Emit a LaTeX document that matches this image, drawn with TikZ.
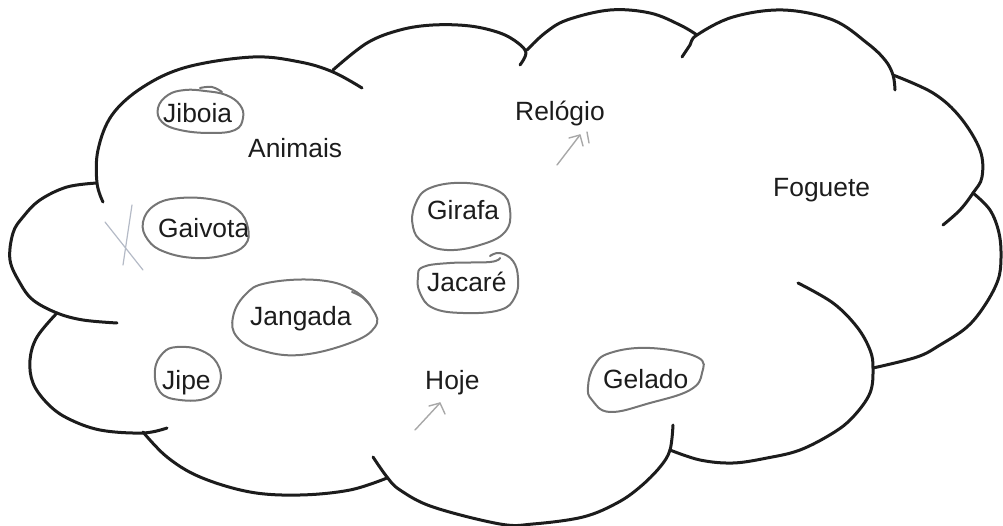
\documentclass[tikz,border=0pt]{standalone}
\usepackage{fontspec}
\setmainfont{Liberation Sans}
\definecolor{ink}{HTML}{1C1C1C}
\definecolor{lead}{HTML}{757575}
\definecolor{faintlead}{HTML}{A8A8A8}
\definecolor{crossmark}{HTML}{B4BAC6}
\begin{document}
\begin{tikzpicture}[x=1bp,y=-1bp,
  cloudline/.style={line width=3bp, line cap=round, line join=round, ink},
  pencil/.style={line width=2bp, line cap=round, line join=round, lead},
  sketcharrow/.style={line width=1.4bp, line cap=round, line join=round, faintlead},
  word/.style={anchor=base west, inner sep=0pt, text=ink,
    font=\fontsize{26.5}{30}\selectfont}]
\useasboundingbox (0,0) rectangle (1003,526);

% --- cloud outline, one bump at a time ---
\draw[cloudline] plot[smooth, tension=0.6] coordinates
  {(103,202) (97,183) (98,150) (112,115) (143,87) (187,67) (253,57) (300,62) (333,72) (362,88)};
\draw[cloudline] plot[smooth, tension=0.6] coordinates
  {(333,70) (367,43) (400,30) (433,25) (470,26) (500,33) (518,43) (526,53) (520,65)};
\draw[cloudline] plot[smooth, tension=0.6] coordinates
  {(527,50) (545,33) (567,20) (610,10) (650,13) (680,25) (697,35)};
\draw[cloudline] plot[smooth, tension=0.6] coordinates
  {(682,57) (690,45) (697,35) (733,17) (783,10) (833,20) (867,43) (885,60) (893,75) (895,90)};
\draw[cloudline] plot[smooth, tension=0.6] coordinates
  {(893,75) (933,93) (960,117) (980,150) (982,177) (973,193) (960,210) (943,225)};
\draw[cloudline] plot[smooth, tension=0.6] coordinates
  {(973,193) (990,210) (999,233) (1001,258) (998,280) (985,305) (967,327) (940,345) (917,357) (873,368)};
\draw[cloudline] plot[smooth, tension=0.6] coordinates
  {(798,283) (833,303) (857,327) (870,350) (873,368) (870,393) (853,417) (833,433) (800,450) (767,458) (733,463) (700,460) (670,450)};
\draw[cloudline] plot[smooth, tension=0.6] coordinates
  {(373,457) (387,477) (400,490) (433,507) (500,524) (533,524) (583,517) (617,503) (640,487) (660,467) (670,450) (673,425)};
\draw[cloudline] plot[smooth, tension=0.6] coordinates
  {(143,432) (167,457) (200,477) (250,492) (300,495) (350,490) (387,478)};
\draw[cloudline] plot[smooth, tension=0.6] coordinates
  {(57,313) (37,337) (30,360) (33,383) (47,403) (67,418) (100,430) (143,433) (167,428)};
\draw[cloudline] plot[smooth, tension=0.6] coordinates
  {(97,183) (67,187) (40,200) (23,217) (13,233) (10,260) (20,283) (33,300) (57,313) (83,320) (117,323)};

% --- words ---
\node[word] (jiboia)  at (163,123) {Jiboia};
\node[word] (animais) at (248,158) {Animais};
\node[word] (gaivota) at (158,238) {Gaivota};
\node[word] (girafa)  at (427,220) {Girafa};
\node[word] (jacare)  at (427,292) {Jacaré};
\node[word] (jangada) at (250,326) {Jangada};
\node[word] (jipe)    at (162,389) {Jipe};
\node[word] (hoje)    at (425,389) {Hoje};
\node[word] (relogio) at (515,121) {Relógio};
\node[word] (foguete) at (773,197) {Foguete};
\node[word] (gelado)  at (603,388) {Gelado};

% --- pencil rings round the chosen words ---
\draw[pencil] plot[smooth cycle, tension=0.7] coordinates
  {(185,90) (205,91) (226,95) (240,105) (243,118) (235,130) (210,133) (180,130) (162,122) (158,108) (168,95)};
\draw[pencil] plot[smooth, tension=0.7] coordinates {(200,88) (212,87) (222,92)};
\draw[pencil] plot[smooth cycle, tension=0.7] coordinates
  {(180,198) (215,200) (238,210) (248,228) (245,245) (225,255) (195,258) (165,252) (148,240) (143,222) (155,205)};
\draw[pencil] plot[smooth cycle, tension=0.7] coordinates
  {(430,188) (467,183) (500,192) (510,210) (505,232) (480,245) (447,250) (423,242) (413,227) (415,205)};
\draw[pencil] plot[smooth, tension=0.7] coordinates
  {(490,256) (500,253) (513,261) (518,278) (515,297) (500,310) (463,313) (433,308) (420,293) (418,277) (423,267) (450,263) (490,262) (500,258)};
\draw[pencil] plot[smooth cycle, tension=0.7] coordinates
  {(267,283) (317,280) (353,290) (373,310) (375,327) (350,343) (300,355) (260,350) (237,337) (233,317) (245,295)};
\draw[pencil] plot[smooth, tension=0.7] coordinates {(352,292) (362,297) (370,305)};
\draw[pencil] plot[smooth cycle, tension=0.7] coordinates
  {(177,347) (200,350) (217,363) (220,383) (207,398) (180,400) (160,392) (155,370) (163,353)};
\draw[pencil] plot[smooth cycle, tension=0.7] coordinates
  {(610,353) (650,348) (697,357) (702,373) (690,390) (650,403) (610,412) (592,400) (588,387) (594,366)};

% --- small sketched arrows and the cross ---
\coordinate (hojeTail) at (415,430);
\coordinate (hojeTip)  at (440,403);
\draw[sketcharrow] (hojeTail) -- (hojeTip);
\draw[sketcharrow] (429,406) -- (hojeTip) -- (445,414);
\coordinate (relTail) at (557,165);
\coordinate (relTip)  at (580,135);
\draw[sketcharrow] (relTail) -- (relTip);
\draw[sketcharrow] (569,138) -- (relTip) -- (583,146);
\draw[sketcharrow] (587,132) -- (589,143);
\draw[line width=1.2bp, line cap=round, crossmark] (132,205) -- (123,265);
\draw[line width=1.2bp, line cap=round, crossmark] (105,222) -- (143,270);
\end{tikzpicture}
\end{document}
